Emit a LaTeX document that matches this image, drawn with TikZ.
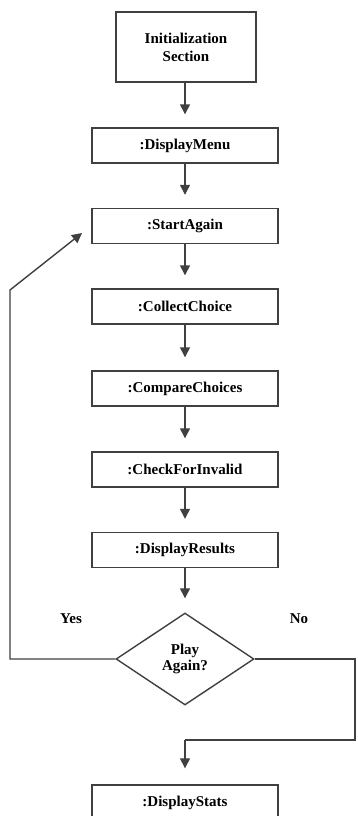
\documentclass[tikz,border=0pt]{standalone}
\usepackage{fontspec}
\setmainfont{Liberation Serif}
\usetikzlibrary{shapes.geometric,arrows.meta}
\begin{document}
\begin{tikzpicture}[x=1pt,y=-1pt,
  box/.style={draw=black!75,line width=1.4pt,fill=white,minimum width=186pt,minimum height=35pt,inner sep=0pt,font=\fontsize{15}{18}\selectfont\bfseries,align=center},
  decision/.style={draw=black!75,line width=1.4pt,diamond,aspect=1.5,minimum width=138pt,minimum height=92pt,inner sep=0pt,font=\fontsize{15}{16.5}\selectfont\bfseries,align=center},
  lbl/.style={font=\fontsize{15}{18}\selectfont\bfseries,inner sep=0pt},
  conn/.style={draw=black!75,line width=1.4pt,-{Triangle[width=10pt,length=10pt]}},
  plain/.style={draw=black!75,line width=1.4pt}]
\useasboundingbox[fill=white] (0,0) rectangle (357,816);
\node[box,minimum width=140pt,minimum height=70pt] (init) at (186,47) {Initialization\\Section};
\node[box] (menu) at (185,145.5) {:DisplayMenu};
\node[box] (start) at (185,226) {:StartAgain};
\node[box] (collect) at (185,306.5) {:CollectChoice};
\node[box] (compare) at (185,388.5) {:CompareChoices};
\node[box] (check) at (185,469.5) {:CheckForInvalid};
\node[box] (results) at (185,550) {:DisplayResults};
\node[decision] (play) at (185,659) {Play\\Again?};
\node[box] (stats) at (185,802.5) {:DisplayStats};
\node[lbl] (yes) at (71,619) {Yes};
\node[lbl] (no) at (299,619) {No};
\coordinate (yesA) at (10,659);
\coordinate (yesB) at (10,290);
\coordinate (yesT) at (82,233);
\coordinate (noA) at (355,659);
\coordinate (noB) at (355,740);
\coordinate (noC) at (185,740);
\draw[conn,shorten >=13pt] (init.south -| menu.north) -- (menu.north);
\draw[conn,shorten >=13pt] (menu) -- (start);
\draw[conn,shorten >=13pt] (start) -- (collect);
\draw[conn,shorten >=13pt] (collect) -- (compare);
\draw[conn,shorten >=13pt] (compare) -- (check);
\draw[conn,shorten >=13pt] (check) -- (results);
\draw[conn,shorten >=14pt] (results) -- (play);
\draw[conn] (play.west) -- (yesA) -- (yesB) -- (yesT);
\draw[plain] (play.east) -- (noA) -- (noB) -- (noC);
\draw[conn,shorten >=16pt] (noC) -- (stats.north);
\end{tikzpicture}
\end{document}
